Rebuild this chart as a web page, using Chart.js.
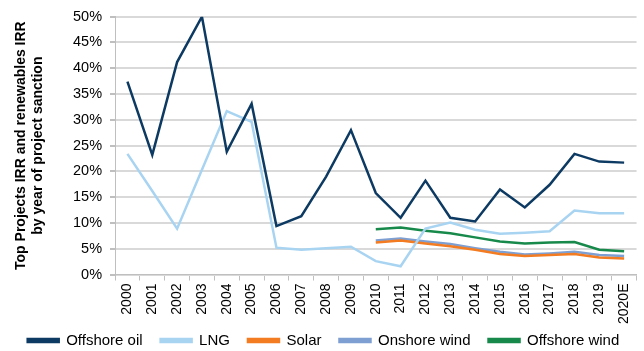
<!DOCTYPE html>
<html>
<head>
<meta charset="utf-8">
<script src="https://cdn.jsdelivr.net/npm/chart.js@4"></script>
<style>
  html, body { margin: 0; padding: 0; background: #fff; }
  #wrap { width: 644px; height: 351px; position: relative; }
</style>
</head>
<body>
<div id="wrap"><canvas id="irr"></canvas></div>
<script>
// IRR by year of project sanction (%)
const years = ["2000", "2001", "2002", "2003", "2004", "2005", "2006", "2007", "2008", "2009",
  "2010", "2011", "2012", "2013", "2014", "2015", "2016", "2017", "2018", "2019", "2020E"];

const offshoreOil = [37.4, 23.2, 41.2, 50.0, 23.8, 33.1, 9.4, 11.3, 19.0, 28.0,
  15.8, 11.0, 18.2, 11.0, 10.3, 16.5, 13.0, 17.4, 23.4, 21.9, 21.7];
const lng = [23.4, 16.2, 8.9, 20.3, 31.7, 29.6, 5.2, 4.8, 5.1, 5.4,
  2.6, 1.6, 8.9, 10.1, 8.7, 7.9, 8.1, 8.4, 12.4, 11.9, 11.9];
const solar = [null, null, null, null, null, null, null, null, null, null,
  6.2, 6.6, 6.0, 5.5, 4.8, 4.0, 3.6, 3.8, 4.0, 3.3, 3.1];
const onshoreWind = [null, null, null, null, null, null, null, null, null, null,
  6.6, 7.0, 6.4, 5.9, 5.1, 4.4, 3.9, 4.1, 4.4, 3.8, 3.6];
const offshoreWind = [null, null, null, null, null, null, null, null, null, null,
  8.8, 9.1, 8.5, 8.0, 7.2, 6.4, 6.0, 6.2, 6.3, 4.8, 4.5];

const yTicks = [0, 5, 10, 15, 20, 25, 30, 35, 40, 45, 50];

const FONT = "'Liberation Sans', Arial, sans-serif";

function line(label, data, color) {
  return {
    label: label,
    data: data,
    borderColor: color,
    backgroundColor: color,
    borderWidth: 2.5,
    pointRadius: 0,
    tension: 0,
    fill: false,
  };
}

// legend keeps its horizontal spacing but reserves less height;
// it is then nudged up a little so the row sits just under the year labels
const compactLegend = {
  id: "compactLegend",
  beforeLayout(chart) {
    const legend = chart.legend;
    if (!legend || legend._compact) return;
    const fit = legend.fit;
    legend.fit = function () {
      fit.call(this);
      this.height = 24;
    };
    legend._compact = true;
  },
  afterLayout(chart) {
    const legend = chart.legend;
    if (legend) {
      legend.top -= 12;
      legend.left += 6;
    }
  },
};

new Chart(document.getElementById("irr"), {
  type: "line",
  data: {
    labels: years,
    datasets: [
      line("Offshore oil", offshoreOil, "#0c3a62"),
      line("LNG", lng, "#a8d4f2"),
      line("Solar", solar, "#f37c22"),
      line("Onshore wind", onshoreWind, "#7e9fd2"),
      line("Offshore wind", offshoreWind, "#17894a"),
    ],
  },
  plugins: [compactLegend],
  options: {
    responsive: true,
    maintainAspectRatio: false,
    animation: false,
    layout: { padding: { top: 16, right: 3, left: 0, bottom: 0 } },
    scales: {
      x: {
        type: "category",
        offset: true,
        grid: { display: true, offset: true, drawOnChartArea: false, drawTicks: true, tickLength: 6, color: "#bfbfbf" },
        border: { display: true, color: "#bfbfbf", width: 1 },
        ticks: {
          minRotation: 90, maxRotation: 90, autoSkip: false, padding: 3,
          color: "#000", font: { family: FONT, size: 14 },
        },
      },
      y: {
        min: 0,
        max: 50,
        afterBuildTicks: (axis) => { axis.ticks = yTicks.map(v => ({ value: v })); },
        grid: { color: "#d9d9d9", lineWidth: 2, drawTicks: true, tickLength: 5, tickColor: "#bfbfbf" },
        border: { display: true, color: "#bfbfbf", width: 1 },
        ticks: {
          color: "#000", padding: 8,
          font: { family: FONT, size: 14.5 },
          callback: (v) => v + "%",
        },
        title: {
          display: true,
          text: ["Top Projects IRR and renewables IRR", "by year of project sanction"],
          color: "#000",
          font: { family: FONT, size: 14, weight: "bold", lineHeight: 1.25 },
          padding: { top: 12, bottom: 18 },
        },
      },
    },
    plugins: {
      legend: {
        position: "bottom",
        labels: {
          color: "#000",
          font: { family: FONT, size: 15 },
          boxWidth: 31,
          boxHeight: 3,
          padding: 18,
        },
      },
      tooltip: { enabled: false },
    },
  },
});
</script>
</body>
</html>
